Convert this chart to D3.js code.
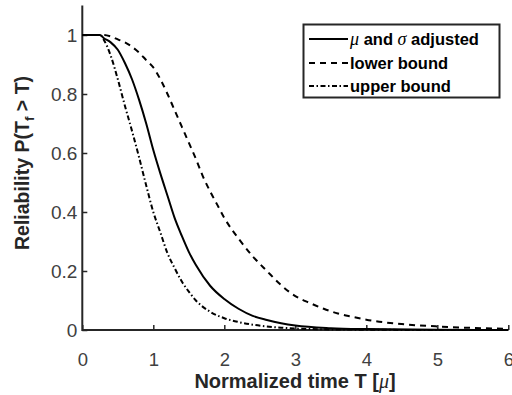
<!DOCTYPE html>
<html>
<head>
<meta charset="utf-8">
<script src="https://cdn.jsdelivr.net/npm/d3@7"></script>
<style>
html,body{margin:0;padding:0;background:#fff;}
svg{display:block;font-family:"Liberation Sans",Arial,sans-serif;}
</style>
</head>
<body>
<svg id="chart" width="512" height="395"></svg>
<script>
// ---- data ----
const xAdjusted = [0, 0.25, 0.3, 0.4, 0.5, 0.6, 0.7, 0.8, 0.9, 1.0, 1.1, 1.2, 1.3, 1.4, 1.5, 1.6, 1.8, 2.0, 2.2, 2.4, 2.6, 2.8, 3.0, 3.5, 4.0, 5.0, 6.0];
const yAdjusted = [1, 1.0, 0.99, 0.975, 0.95, 0.905, 0.85, 0.78, 0.70, 0.61, 0.53, 0.455, 0.38, 0.32, 0.265, 0.22, 0.15, 0.105, 0.072, 0.048, 0.034, 0.023, 0.015, 0.006, 0.003, 0.001, 0.0];

const xUpper = [0, 0.25, 0.3, 0.4, 0.5, 0.6, 0.7, 0.8, 0.9, 1.0, 1.1, 1.2, 1.3, 1.4, 1.5, 1.6, 1.8, 2.0, 2.2, 2.4, 2.6, 2.8, 3.0, 3.5, 4.0, 5.0, 6.0];
const yUpper = [1, 1.0, 0.985, 0.93, 0.85, 0.76, 0.675, 0.585, 0.49, 0.40, 0.33, 0.26, 0.21, 0.165, 0.13, 0.10, 0.062, 0.04, 0.027, 0.018, 0.012, 0.008, 0.005, 0.002, 0.001, 0.0, 0.0];

const xLower = [0, 0.3, 0.4, 0.5, 0.6, 0.7, 0.8, 0.9, 1.0, 1.1, 1.2, 1.3, 1.4, 1.5, 1.6, 1.7, 1.8, 1.9, 2.0, 2.2, 2.4, 2.6, 2.8, 3.0, 3.2, 3.4, 3.6, 3.8, 4.0, 4.5, 5.0, 5.5, 6.0];
const yLower = [1, 1.0, 0.995, 0.985, 0.975, 0.96, 0.94, 0.915, 0.89, 0.85, 0.80, 0.745, 0.69, 0.635, 0.58, 0.52, 0.47, 0.425, 0.38, 0.31, 0.25, 0.20, 0.152, 0.115, 0.092, 0.072, 0.056, 0.045, 0.035, 0.02, 0.012, 0.007, 0.004];

const xTicks = [0, 1, 2, 3, 4, 5, 6];
const yTicks = [0, 0.2, 0.4, 0.6, 0.8, 1];
const yTickLabels = ["0", "0.2", "0.4", "0.6", "0.8", "1"];
const seriesNames = ["adjusted", "lower bound", "upper bound"];

// ---- chart ----
const svg = d3.select("#chart");
const axisColor = "#262626";
const tickColor = "#404040";

const x = d3.scaleLinear().domain([0, 6]).range([82.3, 508.3]);
const y = d3.scaleLinear().domain([0, 1.1]).range([330, 5.5]);

// axes lines
svg.append("line").attr("x1", x(0)).attr("x2", x(6)).attr("y1", y(0)).attr("y2", y(0))
  .attr("stroke", axisColor).attr("stroke-width", 2);
svg.append("line").attr("x1", x(0)).attr("x2", x(0)).attr("y1", y(0)+1).attr("y2", y(1.1))
  .attr("stroke", axisColor).attr("stroke-width", 2);

// ticks (inward)
const gx = svg.append("g").attr("transform", `translate(0,${y(0)})`)
  .call(d3.axisBottom(x).tickValues(xTicks).tickSize(-5).tickPadding(0).tickFormat(d3.format("d")));
gx.select(".domain").remove();
gx.selectAll(".tick line").attr("stroke", axisColor).attr("stroke-width", 1.5);
gx.selectAll(".tick text").attr("fill", tickColor).attr("font-size", 18.5)
  .attr("font-family", "Liberation Sans, Arial, sans-serif").attr("y", 35.5).attr("dy", 0);

const gy = svg.append("g").attr("transform", `translate(${x(0)},0)`)
  .call(d3.axisLeft(y).tickValues(yTicks).tickSize(-5).tickPadding(0)
    .tickFormat((d, i) => yTickLabels[i]));
gy.select(".domain").remove();
gy.selectAll(".tick line").attr("stroke", axisColor).attr("stroke-width", 1.5);
gy.selectAll(".tick text").attr("fill", tickColor).attr("font-size", 19)
  .attr("font-family", "Liberation Sans, Arial, sans-serif").attr("x", -5).attr("dy", "0.36em");

// curves
const line = d3.line().x(d => x(d[0])).y(d => y(d[1])).curve(d3.curveMonotoneX);
const series = [
  {xs: xAdjusted, ys: yAdjusted, dash: null},
  {xs: xLower, ys: yLower, dash: "6,5"},
  {xs: xUpper, ys: yUpper, dash: "5,2.5,1.5,2.5"}
];
series.forEach(s => {
  svg.append("path").datum(d3.zip(s.xs, s.ys))
    .attr("d", line).attr("fill", "none").attr("stroke", "#000")
    .attr("stroke-width", 2).attr("stroke-dasharray", s.dash);
});

// legend
const lg = svg.append("g");
lg.append("rect").attr("x", 303.5).attr("y", 24.5).attr("width", 196).attr("height", 73)
  .attr("fill", "#fff").attr("stroke", axisColor).attr("stroke-width", 2);
const legendY = [39, 63, 86];
series.forEach((s, i) => {
  lg.append("line").attr("x1", 309).attr("x2", 348).attr("y1", legendY[i]).attr("y2", legendY[i])
    .attr("stroke", "#000").attr("stroke-width", 2).attr("stroke-dasharray", s.dash);
});
const t0 = lg.append("text").attr("x", 350).attr("y", legendY[0] + 6)
  .attr("font-size", 16.5).attr("font-weight", "bold").attr("fill", "#000");
t0.append("tspan").attr("font-family", "Liberation Serif, serif").attr("font-style", "italic")
  .attr("font-weight", "normal").attr("font-size", 18).text("μ");
t0.append("tspan").text(" and ");
t0.append("tspan").attr("font-family", "Liberation Serif, serif").attr("font-style", "italic")
  .attr("font-weight", "normal").attr("font-size", 18).text("σ");
t0.append("tspan").text(" " + seriesNames[0]);
[1, 2].forEach(i => {
  lg.append("text").attr("x", 350).attr("y", legendY[i] + 6)
    .attr("font-size", 16.5).attr("font-weight", "bold").attr("fill", "#000").text(seriesNames[i]);
});

// axis labels
const xl = svg.append("text").attr("x", 295).attr("y", 388).attr("text-anchor", "middle")
  .attr("font-size", 20).attr("font-weight", "bold").attr("fill", "#262626");
xl.append("tspan").text("Normalized time T [");
xl.append("tspan").attr("font-family", "Liberation Serif, serif").attr("font-style", "italic")
  .attr("font-weight", "normal").text("μ");
xl.append("tspan").text("]");

const yl = svg.append("text").attr("transform", "translate(29,163) rotate(-90)")
  .attr("text-anchor", "middle").attr("font-size", 19.5).attr("font-weight", "bold").attr("fill", "#262626");
yl.append("tspan").text("Reliability P(T");
yl.append("tspan").attr("font-size", 13.5).attr("dy", 5).text("f");
yl.append("tspan").attr("dy", -5).text(" > T)");
</script>
</body>
</html>
